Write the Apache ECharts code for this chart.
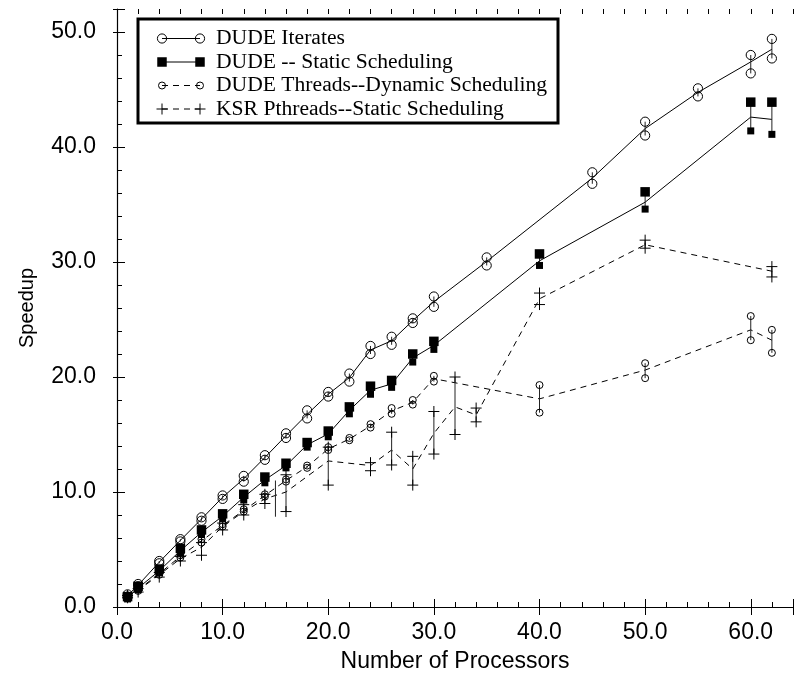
<!DOCTYPE html>
<html><head><meta charset="utf-8">
<script src="https://cdn.jsdelivr.net/npm/echarts@6/dist/echarts.min.js"></script>
<style>html,body{margin:0;padding:0;background:#fff}#c{width:796px;height:679px}</style>
</head><body><div id="c"></div>
<script>
// ---------- data ----------
const legendLabels = ['DUDE Iterates', 'DUDE -- Static Scheduling', 'DUDE Threads--Dynamic Scheduling', 'KSR Pthreads--Static Scheduling'];
const xTicks = [0, 10, 20, 30, 40, 50, 60];
const yTicks = [0, 10, 20, 30, 40, 50];

// DUDE Iterates
const iterX    = [1, 2, 4, 6, 8, 10, 12, 14, 16, 18, 20, 22, 24, 26, 28, 30, 35, 45, 50, 55, 60, 62];
const iterLo   = [0.9, 1.8, 3.8, 5.7, 7.5, 9.4, 10.9, 12.8, 14.7, 16.4, 18.3, 19.6, 22.0, 22.8, 24.7, 26.1, 29.7, 36.8, 41.0, 44.4, 46.4, 47.7];
const iterMean = [1.0, 1.9, 3.9, 5.8, 7.65, 9.55, 11.15, 13.0, 14.9, 16.75, 18.5, 19.95, 22.35, 23.15, 24.9, 26.55, 30.05, 37.3, 41.6, 44.75, 47.4, 48.5];
const iterHi   = [1.1, 2.0, 4.0, 5.9, 7.8, 9.7, 11.4, 13.2, 15.1, 17.1, 18.7, 20.3, 22.7, 23.5, 25.1, 27.0, 30.4, 37.8, 42.2, 45.1, 48.0, 49.4];

// DUDE -- Static Scheduling
const statX    = [1, 2, 4, 6, 8, 10, 12, 14, 16, 18, 20, 22, 24, 26, 28, 30, 40, 50, 60, 62];
const statLo   = [0.7, 1.5, 3.0, 4.7, 6.3, 7.7, 9.3, 10.8, 12.1, 13.9, 14.8, 16.8, 18.5, 19.1, 21.3, 22.4, 29.7, 34.6, 41.4, 41.1];
const statMean = [0.8, 1.65, 3.15, 4.9, 6.5, 7.9, 9.55, 11.05, 12.3, 14.1, 15.05, 17.1, 18.85, 19.4, 21.65, 22.75, 30.1, 35.2, 42.6, 42.4];
const statHi   = [0.9, 1.8, 3.3, 5.1, 6.7, 8.1, 9.8, 11.3, 12.5, 14.3, 15.3, 17.4, 19.2, 19.7, 22.0, 23.1, 30.7, 36.1, 43.9, 43.9];

// DUDE Threads--Dynamic Scheduling
const dynX     = [1, 2, 4, 6, 8, 10, 12, 14, 16, 18, 20, 22, 24, 26, 28, 30, 40, 50, 60, 62];
const dynLo    = [0.8, 1.4, 2.8, 4.3, 5.6, 7.0, 8.3, 9.6, 10.9, 12.1, 13.65, 14.5, 15.6, 16.8, 17.6, 19.6, 16.9, 19.9, 23.2, 22.1];
const dynMean  = [0.9, 1.5, 2.9, 4.4, 5.75, 7.1, 8.4, 9.7, 11.0, 12.2, 13.75, 14.6, 15.75, 17.05, 17.8, 19.85, 18.1, 20.6, 24.1, 23.2];
const dynHi    = [1.0, 1.6, 3.0, 4.5, 5.9, 7.2, 8.5, 9.8, 11.1, 12.3, 13.9, 14.7, 15.9, 17.3, 18.0, 20.1, 19.3, 21.2, 25.3, 24.1];

// KSR Pthreads--Static Scheduling
const ksrX     = [1, 2, 4, 6, 8, 10, 12, 14, 16, 20, 24, 26, 28, 30, 32, 34, 40, 50, 62];
const ksrLo    = [0.8, 1.3, 2.6, 4.0, 4.5, 6.7, 8.0, 9.0, 8.3, 10.6, 11.85, 12.35, 10.6, 13.3, 15.0, 16.1, 26.3, 31.2, 28.7];
const ksrMean  = [0.9, 1.45, 2.8, 4.2, 5.2, 7.0, 8.3, 9.4, 10.0, 12.7, 12.3, 13.65, 12.0, 15.1, 17.4, 16.7, 26.8, 31.5, 29.2];
const ksrHi    = [1.0, 1.6, 3.0, 4.4, 5.6, 7.3, 8.9, 9.8, 11.5, 13.9, 12.55, 15.2, 13.1, 17.0, 20.0, 17.3, 27.3, 31.9, 29.6];
// KSR range bar drawn without end marks
const ksrBarX  = [15];
const ksrBarLo = [7.85];
const ksrBarHi = [11.0];

// ---------- helpers ----------
const SANS = "'Liberation Sans', Arial, Helvetica, sans-serif";
const SERIF = "'Liberation Serif', 'Times New Roman', serif";

function markerShapes(kind, cx, cy, big) {
  if (kind === 'circleL') return [{type: 'circle', shape: {cx, cy, r: 4.6}, style: {fill: 'none', stroke: '#000', lineWidth: 1}}];
  if (kind === 'circleS') return [{type: 'circle', shape: {cx, cy, r: 3.5}, style: {fill: 'none', stroke: '#000', lineWidth: 1}}];
  if (kind === 'square') { const s = big ? 9.5 : 7; return [{type: 'rect', shape: {x: cx - s / 2, y: cy - s / 2, width: s, height: s}, style: {fill: '#000'}}]; }
  if (kind === 'plus') { const h = 5.5; return [
    {type: 'line', shape: {x1: cx - h, y1: cy, x2: cx + h, y2: cy}, style: {stroke: '#000', lineWidth: 1}},
    {type: 'line', shape: {x1: cx, y1: cy - h, x2: cx, y2: cy + h}, style: {stroke: '#000', lineWidth: 1}}]; }
  return [];
}

function errSeries(name, X, LO, HI, kind) {
  return {
    name, type: 'custom', xAxisIndex: 0, yAxisIndex: 0, z: 5,
    data: X.map((x, i) => [x, LO[i], HI[i]]),
    encode: {x: 0, y: [1, 2]},
    renderItem: function (params, api) {
      const x = api.value(0);
      const pLo = api.coord([x, api.value(1)]);
      const pHi = api.coord([x, api.value(2)]);
      const children = [{type: 'line', shape: {x1: pLo[0], y1: pLo[1], x2: pHi[0], y2: pHi[1]}, style: {stroke: '#222', lineWidth: 1}}];
      if (kind) {
        markerShapes(kind, pHi[0], pHi[1], true).forEach(c => children.push(c));
        markerShapes(kind, pLo[0], pLo[1], false).forEach(c => children.push(c));
      }
      return {type: 'group', children};
    }
  };
}

function lineSeries(name, X, M, dashed) {
  return {
    name, type: 'line', xAxisIndex: 0, yAxisIndex: 0, z: 3,
    data: X.map((x, i) => [x, M[i]]),
    symbol: 'none', animation: false,
    lineStyle: {color: '#000', width: 1, type: dashed ? [6, 5] : 'solid'}
  };
}

// ---------- legend (drawn) ----------
const legendKinds = ['circleL', 'square', 'circleS', 'plus'];
const legendDashed = [false, false, true, true];
const legendRowY = [38.5, 62, 85.5, 109];
const graphics = [{type: 'rect', z: 100, shape: {x: 138, y: 19, width: 420, height: 104}, style: {fill: '#fff', stroke: '#000', lineWidth: 3}}];
legendLabels.forEach((lab, i) => {
  const y = legendRowY[i];
  graphics.push({type: 'line', z: 101, shape: {x1: 162, y1: y, x2: 200, y2: y}, style: {stroke: '#000', lineWidth: 1, lineDash: legendDashed[i] ? [6, 5] : null}});
  markerShapes(legendKinds[i], 162, y, true).forEach(c => { c.z = 102; graphics.push(c); });
  markerShapes(legendKinds[i], 200, y, true).forEach(c => { c.z = 102; graphics.push(c); });
  graphics.push({type: 'text', z: 102, x: 216, y: y, style: {text: lab, font: '21.6px ' + SERIF, fill: '#000', textVerticalAlign: 'middle', verticalAlign: 'middle'}});
});

// ---------- axes ----------
const fmtX = v => xTicks.indexOf(v) >= 0 ? v.toFixed(1) : '';
const fmtY = v => yTicks.indexOf(v) >= 0 ? v.toFixed(1) : '';
const axisLineStyle = {show: true, lineStyle: {color: '#000', width: 1.2}};

const chart = echarts.init(document.getElementById('c'), null, {renderer: 'canvas'});
chart.setOption({
  animation: false,
  backgroundColor: '#fff',
  grid: {left: 117, top: 9, width: 64 * 10.75, height: 598, containLabel: false},
  xAxis: [
    {type: 'value', position: 'bottom', min: 0, max: 64, interval: 10,
     axisLine: axisLineStyle, axisTick: {show: true, inside: true, length: 8, lineStyle: {color: '#000'}},
     axisLabel: {formatter: fmtX, margin: 14, fontSize: 23, fontFamily: SANS, color: '#000'},
     splitLine: {show: false},
     name: 'Number of Processors', nameLocation: 'middle', nameGap: 43,
     nameTextStyle: {fontSize: 23, fontFamily: SANS, color: '#000'}},
    {type: 'value', position: 'bottom', min: 0, max: 64, interval: 2,
     axisLine: {show: false}, axisTick: {show: true, inside: true, length: 5, lineStyle: {color: '#000'}},
     axisLabel: {show: false}, splitLine: {show: false}},
    {type: 'value', position: 'top', min: 0, max: 64, interval: 10,
     axisLine: axisLineStyle, axisTick: {show: true, inside: true, length: 8, lineStyle: {color: '#000'}},
     axisLabel: {show: false}, splitLine: {show: false}},
    {type: 'value', position: 'top', min: 0, max: 64, interval: 2,
     axisLine: {show: false}, axisTick: {show: true, inside: true, length: 5, lineStyle: {color: '#000'}},
     axisLabel: {show: false}, splitLine: {show: false}}
  ],
  yAxis: [
    {type: 'value', position: 'left', min: 0, max: 52, interval: 10,
     axisLine: axisLineStyle, axisTick: {show: true, inside: true, length: 8, lineStyle: {color: '#000'}},
     axisLabel: {formatter: fmtY, margin: 21, fontSize: 23, fontFamily: SANS, color: '#000'},
     splitLine: {show: false},
     name: 'Speedup', nameLocation: 'middle', nameGap: 80, nameRotate: 90,
     nameTextStyle: {fontSize: 20, fontFamily: SANS, color: '#000'}},
    {type: 'value', position: 'left', min: 0, max: 52, interval: 2,
     axisLine: {show: false}, axisTick: {show: true, inside: true, length: 5, lineStyle: {color: '#000'}},
     axisLabel: {show: false}, splitLine: {show: false}},
    {type: 'value', position: 'right', offset: -4, min: 0, max: 52, interval: 10,
     axisLine: {show: false}, axisTick: {show: true, inside: true, length: 8, lineStyle: {color: '#000'}},
     axisLabel: {show: false}, splitLine: {show: false}}
  ],
  graphic: graphics,
  series: [
    lineSeries(legendLabels[0], iterX, iterMean, false),
    lineSeries(legendLabels[1], statX, statMean, false),
    lineSeries(legendLabels[2], dynX, dynMean, true),
    lineSeries(legendLabels[3], ksrX, ksrMean, true),
    errSeries('iterErr', iterX, iterLo, iterHi, 'circleL'),
    errSeries('statErr', statX, statLo, statHi, 'square'),
    errSeries('dynErr', dynX, dynLo, dynHi, 'circleS'),
    errSeries('ksrErr', ksrX, ksrLo, ksrHi, 'plus'),
    errSeries('ksrBar', ksrBarX, ksrBarLo, ksrBarHi, null)
  ]
});
</script></body></html>
